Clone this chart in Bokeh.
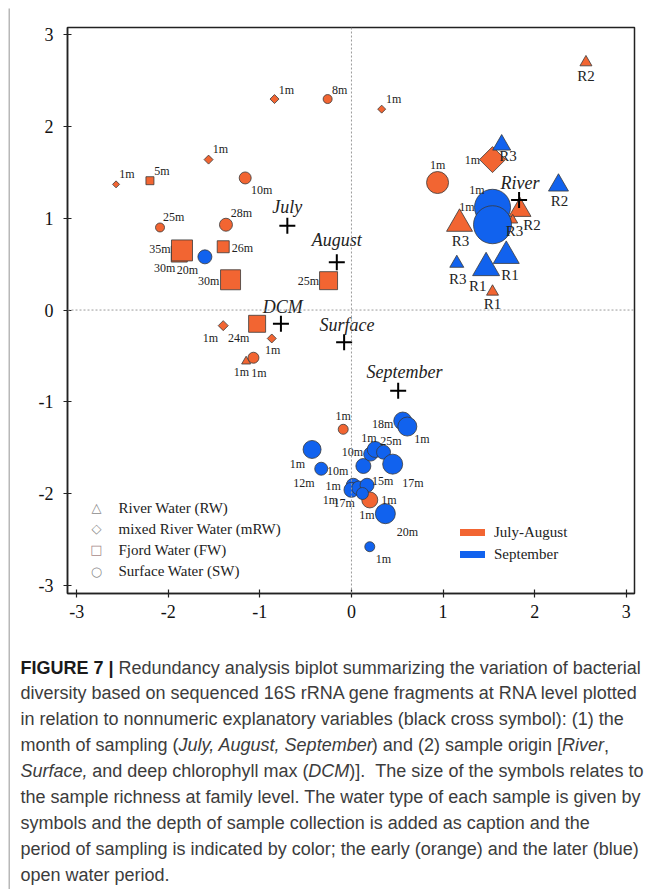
from bokeh.plotting import figure
from bokeh.models import Label, Span, FixedTicker, Legend, LegendItem, ColumnDataSource, BoxAnnotation
from bokeh.layouts import row, column
from bokeh.core.properties import value
from bokeh.embed import file_html
from bokeh.resources import INLINE
import math

# ---------------- data ----------------
ORANGE = "#F26532"
BLUE = "#1162EE"

# water type: RW river water, mRW mixed river water, FW fjord water, SW surface water
# period: JA = July-August, SEP = September
s_type = ["mRW", "SW", "mRW", "mRW", "mRW", "FW", "SW", "SW", "SW", "FW",
          "FW", "FW", "FW", "FW", "mRW", "FW", "mRW", "SW", "RW", "SW",
          "RW", "mRW", "SW", "RW", "RW", "RW", "RW", "SW",
          "SW", "RW", "RW", "SW", "SW", "RW", "RW", "RW", "SW", "SW",
          "SW", "SW", "SW", "SW", "SW", "SW", "SW", "SW", "SW", "SW",
          "SW", "SW", "SW", "SW"]
s_period = ["JA"] * 28 + ["SEP"] * 24
s_x = [-0.84, -0.26, 0.33, -1.56, -2.57, -2.20, -1.16, -2.09, -1.37, -1.40,
       -1.88, -1.85, -1.32, -0.25, -1.40, -1.03, -0.87, -1.07, -1.15, -0.09,
       2.56, 1.54, 0.94, 1.84, 1.76, 1.18, 1.54, 0.20,
       -1.60, 1.64, 2.26, 1.54, 1.54, 1.69, 1.47, 1.15, -0.43, -0.33,
       0.13, 0.21, 0.26, 0.35, 0.45, 0.56, 0.61, 0.02, 0.00, 0.08,
       0.17, 0.12, 0.37, 0.20]
s_y = [2.30, 2.30, 2.19, 1.64, 1.37, 1.41, 1.44, 0.90, 0.93, 0.69,
       0.61, 0.65, 0.33, 0.32, -0.17, -0.15, -0.31, -0.52, -0.56, -1.30,
       2.70, 1.64, 1.39, 1.09, 0.98, 0.94, 0.20, -2.07,
       0.58, 1.80, 1.36, 1.12, 0.93, 0.59, 0.46, 0.51, -1.52, -1.73,
       -1.70, -1.57, -1.52, -1.55, -1.68, -1.21, -1.27, -1.91, -1.96, -1.94,
       -1.91, -2.00, -2.22, -2.58]
# relative sample richness (drives symbol size)
s_rich = [9, 9, 8, 9, 7, 8, 12, 9, 13, 12,
          16, 21, 20, 18, 10, 17, 9, 11, 9, 10,
          12, 26, 22, 22, 10, 26, 12, 16,
          14, 18, 20, 36, 38, 26, 27, 14, 18, 13,
          15, 14, 16, 14, 20, 18, 19, 14, 15, 14,
          14, 12, 20, 10]
s_label = ["1m", "8m", "1m", "1m", "1m", "5m", "10m", "25m", "28m", "26m",
           "30m", "35m", "30m", "25m", "1m", "24m", "1m", "1m", "1m", "1m",
           "R2", "1m", "1m", "R2", "R3", "R3", "R1", "1m",
           "20m", "R3", "R2", "1m", "1m", "R1", "R1", "R3", "1m", "12m",
           "10m", "10m", "1m", "25m", "17m", "18m", "1m", "15m", "1m", "1m",
           "1m", "17m", "20m", "1m"]
lab_x = [-0.71, -0.13, 0.46, -1.43, -2.45, -2.07, -0.98, -1.94, -1.20, -1.19,
         -2.04, -2.09, -1.56, -0.47, -1.54, -1.23, -0.86, -1.01, -1.20, -0.09,
         2.56, 1.32, 0.94, 1.97, 1.78, 1.19, 1.54, 0.41,
         -1.79, 1.71, 2.27, 1.37, 1.26, 1.73, 1.38, 1.16, -0.59, -0.52,
         -0.15, 0.01, 0.19, 0.43, 0.67, 0.34, 0.77, 0.34, -0.20, -0.23,
         0.17, -0.08, 0.61, 0.35]
lab_y = [2.40, 2.40, 2.30, 1.76, 1.48, 1.52, 1.31, 1.01, 1.06, 0.68,
         0.46, 0.66, 0.32, 0.32, -0.31, -0.31, -0.44, -0.69, -0.67, -1.16,
         2.55, 1.64, 1.58, 0.93, 0.86, 0.75, 0.07, -2.07,
         0.44, 1.68, 1.19, 1.31, 1.12, 0.38, 0.26, 0.34, -1.68, -1.88,
         -1.76, -1.55, -1.39, -1.43, -1.88, -1.24, -1.41, -1.86, -1.92, -2.07,
         -2.23, -2.10, -2.42, -2.71]

factor_names = ["July", "August", "September", "River", "Surface", "DCM"]
factor_x = [-0.70, -0.16, 0.51, 1.83, -0.08, -0.77]
factor_y = [0.92, 0.52, -0.88, 1.20, -0.35, -0.15]
factor_lab_x = [-0.70, -0.16, 0.58, 1.84, -0.05, -0.75]
factor_lab_y = [1.12, 0.76, -0.67, 1.38, -0.16, 0.03]

ticks = [-3, -2, -1, 0, 1, 2, 3]

water_legend = [("\u25B3", "River Water (RW)"), ("\u25C7", "mixed River Water (mRW)"),
                ("\u25A1", "Fjord Water (FW)"), ("\u25CB", "Surface Water (SW)")]
period_legend = ["July-August", "September"]

caption = [
    [("FIGURE 7 |", "b"), (" Redundancy analysis biplot summarizing the variation of bacterial", "n")],
    [("diversity based on sequenced 16S rRNA gene fragments at RNA level plotted", "n")],
    [("in relation to nonnumeric explanatory variables (black cross symbol): (1) the", "n")],
    [("month of sampling (", "n"), ("July, August, September", "i"),
     (") and (2) sample origin [", "n"), ("River", "i"), (",", "n")],
    [("Surface,", "i"), (" and deep chlorophyll max (", "n"), ("DCM", "i"),
     (")].", "n"), ("  The size of the symbols relates to", "n")],
    [("the sample richness at family level. The water type of each sample is given by", "n")],
    [("symbols and the depth of sample collection is added as caption and the", "n")],
    [("period of sampling is indicated by color; the early (orange) and the later (blue)", "n")],
    [("open water period.", "n")],
]

# ---------------- layout (page pixels) ----------------
PAGE_W, PAGE_H = 655, 889
EDGE = 10                      # card border strip
CH_H = 630                     # chart figure height
CAP_H = PAGE_H - EDGE - CH_H   # caption figure height
F_LEFT, F_RIGHT, F_TOP, F_BOT = 67, 634, 27, 593   # plot frame in page pixels
X0, X1 = -3.10, 3.09
Y0, Y1 = -3.09, 3.08


def px2x(px):
    return X0 + (px - F_LEFT) * (X1 - X0) / (F_RIGHT - F_LEFT)


def py2y(py):
    return Y1 - (py - F_TOP) * (Y1 - Y0) / (F_BOT - F_TOP)


SERIF = "Liberation Serif"
SANS = "Liberation Sans"
BORDER_C = "#b8b8b8"


def blank(w, h, xr, yr):
    f = figure(width=w, height=h, x_range=xr, y_range=yr, output_backend="svg",
               toolbar_location=None, title=None, x_axis_type=None,
               y_axis_type=None, min_border=0, frame_align=False)
    f.outline_line_color = None
    f.background_fill_color = "white"
    f.border_fill_color = "white"
    return f


# left strip and top strip of the card border
left = blank(EDGE, PAGE_H, (0, EDGE), (PAGE_H, 0))
left.add_layout(BoxAnnotation(left=8, right=10, top=8, bottom=PAGE_H,
                              fill_color=BORDER_C, fill_alpha=1, line_color=None))
top = blank(PAGE_W - EDGE, EDGE, (EDGE, PAGE_W), (EDGE, 0))
top.add_layout(BoxAnnotation(left=EDGE, right=PAGE_W, top=8, bottom=10,
                             fill_color=BORDER_C, fill_alpha=1, line_color=None))

# ---------------- chart ----------------
p = figure(width=PAGE_W - EDGE, height=CH_H, x_range=(X0, X1), y_range=(Y0, Y1),
           output_backend="svg", toolbar_location=None, title=None,
           frame_align=False,
           min_border_left=F_LEFT - EDGE, min_border_right=PAGE_W - F_RIGHT,
           min_border_top=F_TOP - EDGE, min_border_bottom=EDGE + CH_H - F_BOT)
p.xgrid.visible = False
p.ygrid.visible = False
p.outline_line_color = "#222222"
p.outline_line_width = 1.5
p.background_fill_color = "white"
p.border_fill_color = "white"

for ax in (p.xaxis[0], p.yaxis[0]):
    ax.ticker = FixedTicker(ticks=ticks)
    ax.major_label_overrides = {t: str(t) for t in ticks}
    ax.axis_line_color = "#222222"
    ax.axis_line_width = 1.5
    ax.major_tick_line_color = "#222222"
    ax.major_tick_line_width = 1.2
    ax.major_tick_in = 4
    ax.major_tick_out = 4
    ax.minor_tick_line_color = None
    ax.major_label_text_font = SERIF
    ax.major_label_text_font_size = "18px"
    ax.major_label_text_color = "#111111"
p.xaxis[0].major_label_standoff = 7
p.yaxis[0].major_label_standoff = 10

for dim in ("width", "height"):
    p.add_layout(Span(location=0, dimension=dim, line_color="#9a9a9a",
                      line_width=1, line_dash="2 2"))

marker_map = {"RW": "triangle", "mRW": "square", "FW": "square", "SW": "circle"}
size_fac = {"RW": 1.0, "mRW": 1 / math.sqrt(2), "FW": 1.0, "SW": 1.0}
angle_map = {"RW": 0.0, "mRW": math.pi / 4, "FW": 0.0, "SW": 0.0}
colors = [ORANGE if pr == "JA" else BLUE for pr in s_period]
src = ColumnDataSource(dict(
    x=s_x, y=s_y,
    marker=[marker_map[t] for t in s_type],
    size=[r * size_fac[t] for r, t in zip(s_rich, s_type)],
    angle=[angle_map[t] for t in s_type],
    color=colors,
))
p.scatter(x="x", y="y", marker="marker", size="size", angle="angle",
          fill_color="color", line_color="#3a3a3a", line_width=0.8, source=src)

lsrc = ColumnDataSource(dict(
    x=lab_x, y=lab_y, text=s_label,
    fs=["15px" if t.startswith("R") else "12px" for t in s_label],
))
p.text(x="x", y="y", text="text", source=lsrc, text_font=value(SERIF),
       text_font_size="fs", text_color="#222222",
       text_align="center", text_baseline="middle")

p.scatter(factor_x, factor_y, marker="cross", size=16, line_width=2,
          line_color="black")
p.text(factor_lab_x, factor_lab_y, text=factor_names, text_font=value(SERIF),
       text_font_style="italic", text_font_size="18px", text_color="#222222",
       text_align="center", text_baseline="middle")

# water-type legend (symbols as text)
sym_colors = ["#8c8c8c", "#8c8c8c", "#a88a8a", "#8c8c8c"]
for i, (sym, name) in enumerate(water_legend):
    cy = 507 + 21.2 * i
    p.add_layout(Label(x=px2x(96), y=py2y(cy), text=sym, text_font="DejaVu Sans",
                       text_font_size="13px", text_color=sym_colors[i],
                       text_align="center", text_baseline="middle"))
    p.add_layout(Label(x=px2x(118), y=py2y(cy), text=name, text_font=SERIF,
                       text_font_size="15px", text_color="#222222",
                       text_align="left", text_baseline="middle"))

# period legend
nan = float("nan")
r_ja = p.line(x=[nan], y=[nan], line_color=ORANGE, line_width=7, line_cap="round")
r_se = p.line(x=[nan], y=[nan], line_color=BLUE, line_width=7, line_cap="round")
leg = Legend(items=[LegendItem(label=period_legend[0], renderers=[r_ja]),
                    LegendItem(label=period_legend[1], renderers=[r_se])],
             location=(393, 29), orientation="vertical", glyph_width=25,
             glyph_height=20, label_height=20, spacing=2, padding=0, margin=0,
             label_standoff=9, background_fill_alpha=0, border_line_color=None,
             label_text_font=SERIF, label_text_font_size="15px",
             label_text_color="#222222")
p.add_layout(leg)

# ---------------- caption ----------------
cap = blank(PAGE_W - EDGE, CAP_H, (EDGE, PAGE_W), (PAGE_H, EDGE + CH_H))

HELV = {' ': 278, '(': 333, ')': 333, ',': 278, '-': 333, '.': 278, ':': 278,
        ';': 278, '[': 278, ']': 278, '|': 260,
        'A': 667, 'B': 667, 'C': 722, 'D': 722, 'E': 667, 'F': 611, 'G': 778,
        'H': 722, 'I': 278, 'J': 500, 'K': 667, 'L': 556, 'M': 833, 'N': 722,
        'O': 778, 'P': 667, 'Q': 778, 'R': 722, 'S': 667, 'T': 611, 'U': 722,
        'V': 667, 'W': 944, 'X': 667, 'Y': 667, 'Z': 611,
        'a': 556, 'b': 556, 'c': 500, 'd': 556, 'e': 556, 'f': 278, 'g': 556,
        'h': 556, 'i': 222, 'j': 222, 'k': 500, 'l': 222, 'm': 833, 'n': 556,
        'o': 556, 'p': 556, 'q': 556, 'r': 333, 's': 500, 't': 278, 'u': 556,
        'v': 500, 'w': 722, 'x': 500, 'y': 500, 'z': 500}
HELV_B = dict(HELV)
HELV_B.update({'|': 280})
KERN = {("y", ","): -100, ("y", "."): -100, ("r", ","): -50, ("r", "."): -50,
        (" ", "A"): -55, ("A", " "): -55, ("A", "v"): -40, ("A", "y"): -40,
        ("v", ","): -80, ("w", ","): -60, ("e", ","): -15, ("F", "I"): 0}


def tw(s, bold=False):
    tab = HELV_B if bold else HELV
    w = sum(tab.get(ch, 556) for ch in s)
    w += sum(KERN.get((a, b), 0) for a, b in zip(s, s[1:]))
    return w / 1000.0


CAP_FS = 18
SPACE_W = 0.278 * CAP_FS
segs_by_style = {"b": ([], [], []), "n": ([], [], []), "i": ([], [], [])}
for i, segs in enumerate(caption):
    cy = 667 + 25.9 * i
    cx = 20
    for txt, st in segs:
        body = txt.lstrip(" ")
        cx += (len(txt) - len(body)) * SPACE_W
        xs, ys, ts = segs_by_style[st]
        xs.append(cx)
        ys.append(cy)
        ts.append(body)
        cx += tw(body, st == "b") * CAP_FS

style_name = {"b": "bold", "n": "normal", "i": "italic"}
for st, (xs, ys, ts) in segs_by_style.items():
    cap.text(xs, ys, text=ts, text_font=value(SANS), text_font_size=f"{CAP_FS}px",
             text_font_style=style_name[st],
             text_color="#1a1a1a" if st == "b" else "#3c3c3c",
             text_align="left", text_baseline="middle")

layout = row(left, column(top, p, cap))
open("out.html", "w").write(file_html(layout, INLINE))
